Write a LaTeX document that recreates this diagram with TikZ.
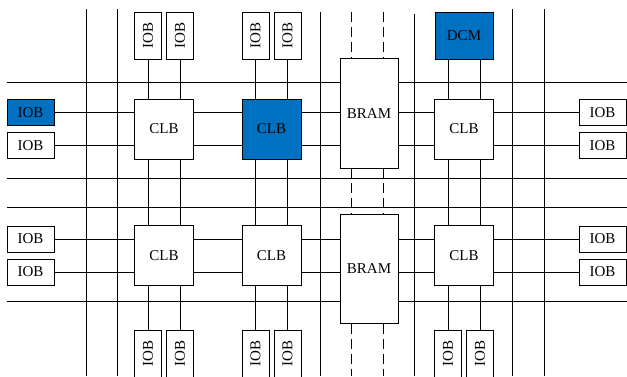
\documentclass[tikz,border=0pt]{standalone}
\usepackage{fontspec}
\setmainfont{Liberation Serif}
\definecolor{fpgablue}{RGB}{0,112,192}
\begin{document}
\begin{tikzpicture}[x=1pt,y=-1pt,line width=1pt,
  blk/.style={draw,fill=white,inner sep=0pt,outer sep=0pt,font=\fontsize{15}{15}\selectfont},
  clb/.style={blk,minimum width=59pt,minimum height=60pt},
  iob/.style={blk,minimum width=47pt,minimum height=26pt},
  iobv/.style={blk,minimum width=27pt,minimum height=47pt},
  bram/.style={blk,minimum width=58pt,minimum height=109.5pt},
  hot/.style={fill=fpgablue},
  dsh/.style={dash pattern=on 10pt off 5pt}]
\useasboundingbox (0,0) rectangle (627,376);
% routing channels
\foreach \y in {82,178,207,301} \draw (7,\y) -- (627,\y);
\foreach \x/\t in {86/9,117/9,320/12,414/14,512/9,544/9} \draw (\x,\t) -- (\x,376);
% logic blocks
\node[clb] (clbA) at (164,129) {CLB};
\node[clb,hot] (clbB) at (271.5,129) {CLB};
\node[clb] (clbC) at (464,129) {CLB};
\node[clb] (clbD) at (164,255.5) {CLB};
\node[clb] (clbE) at (271.5,255.5) {CLB};
\node[clb] (clbF) at (464,255.5) {CLB};
\node[bram] (bramT) at (369,113.5) {BRAM};
\node[bram] (bramB) at (369,269) {BRAM};
\node[blk,hot,minimum width=58pt,minimum height=47pt] (dcm) at (464,35.5) {DCM};
% io blocks, left and right
\node[iob,hot] (iobL1) at (30.5,112.5) {IOB};
\node[iob] (iobL2) at (30.5,145.5) {IOB};
\node[iob] (iobL3) at (30.5,239) {IOB};
\node[iob] (iobL4) at (30.5,272) {IOB};
\node[iob] (iobR1) at (602.5,112.5) {IOB};
\node[iob] (iobR2) at (602.5,145.5) {IOB};
\node[iob] (iobR3) at (602.5,239) {IOB};
\node[iob] (iobR4) at (602.5,272) {IOB};
% io blocks, top and bottom
\node[iobv] (iobT1) at (148,35.5) {\rotatebox{90}{IOB}};
\node[iobv] (iobT2) at (180,35.5) {\rotatebox{90}{IOB}};
\node[iobv] (iobT3) at (255.5,35.5) {\rotatebox{90}{IOB}};
\node[iobv] (iobT4) at (287.5,35.5) {\rotatebox{90}{IOB}};
\node[iobv] (iobB1) at (148,353.5) {\rotatebox{90}{IOB}};
\node[iobv] (iobB2) at (180,353.5) {\rotatebox{90}{IOB}};
\node[iobv] (iobB3) at (255.5,353.5) {\rotatebox{90}{IOB}};
\node[iobv] (iobB4) at (287.5,353.5) {\rotatebox{90}{IOB}};
\node[iobv] (iobB5) at (448,353.5) {\rotatebox{90}{IOB}};
\node[iobv] (iobB6) at (480,353.5) {\rotatebox{90}{IOB}};
% horizontal links
\foreach \r in {iobL1,iobL2}
  \foreach \a/\b in {iobL1/clbA,clbA/clbB,clbB/bramT,bramT/clbC,clbC/iobR1}
    \draw (\a.east |- \r) -- (\b.west |- \r);
\foreach \r in {iobL3,iobL4}
  \foreach \a/\b in {iobL3/clbD,clbD/clbE,clbE/bramB,bramB/clbF,clbF/iobR3}
    \draw (\a.east |- \r) -- (\b.west |- \r);
% vertical links
\foreach \n/\t/\u/\d in {iobB1/iobT1/clbA/clbD,iobB2/iobT2/clbA/clbD,iobB3/iobT3/clbB/clbE,
    iobB4/iobT4/clbB/clbE,iobB5/dcm/clbC/clbF,iobB6/dcm/clbC/clbF}
  \draw (\n |- \t.south) -- (\n |- \u.north) (\n |- \u.south) -- (\n |- \d.north)
        (\n |- \d.south) -- (\n.north);
% bram cascade
\foreach \x in {351.5,383.5}
  \draw[dsh] (\x,12) -- (\x,12 |- bramT.north) (\x,12 |- bramT.south) -- (\x,12 |- bramB.north)
             (\x,12 |- bramB.south) -- (\x,376);
\end{tikzpicture}
\end{document}
